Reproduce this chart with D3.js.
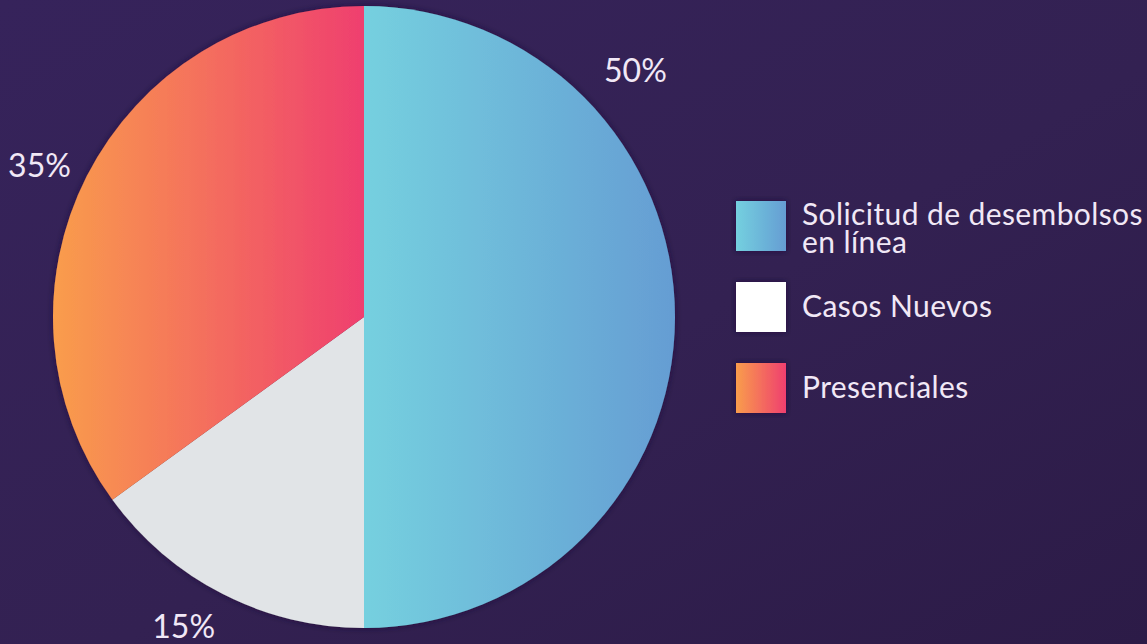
<!DOCTYPE html>
<html>
<head>
<meta charset="utf-8">
<script src="https://cdn.jsdelivr.net/npm/d3@7"></script>
<style>
  html, body { margin: 0; padding: 0; }
  body { width: 1147px; height: 644px; overflow: hidden; }
</style>
</head>
<body>
<div id="chart"></div>
<script>
// data
const categories = ["Solicitud de desembolsos en línea", "Casos Nuevos", "Presenciales"];
const legendLines = [["Solicitud de desembolsos", "en línea"], ["Casos Nuevos"], ["Presenciales"]];
const values = [50, 15, 35];
const valueLabels = ["50%", "15%", "35%"];

const width = 1147, height = 644;
const cx = 364, cy = 317, radius = 311;

const svg = d3.select("#chart").append("svg")
  .attr("width", width)
  .attr("height", height);

const defs = svg.append("defs");

// background
const bg = defs.append("linearGradient").attr("id", "bg")
  .attr("x1", "0").attr("y1", "0").attr("x2", "1").attr("y2", "1");
bg.append("stop").attr("offset", "0%").attr("stop-color", "#36235b");
bg.append("stop").attr("offset", "55%").attr("stop-color", "#332152");
bg.append("stop").attr("offset", "100%").attr("stop-color", "#2c1b47");
svg.append("rect").attr("width", width).attr("height", height).attr("fill", "url(#bg)");

const shadow = defs.append("filter").attr("id", "shadow")
  .attr("x", "-10%").attr("y", "-10%").attr("width", "120%").attr("height", "120%");
shadow.append("feDropShadow").attr("dx", 0).attr("dy", 0)
  .attr("stdDeviation", 3).attr("flood-color", "#1a1035").attr("flood-opacity", 0.7);

// slice fills: gradients in the pie group's own coordinates (centre = 0,0)
function grad(id, from, to, x1, x2) {
  const g = defs.append("linearGradient").attr("id", id)
    .attr("gradientUnits", "userSpaceOnUse")
    .attr("x1", x1).attr("y1", 0).attr("x2", x2).attr("y2", 0);
  g.append("stop").attr("offset", "0%").attr("stop-color", from);
  g.append("stop").attr("offset", "100%").attr("stop-color", to);
}
grad("gBlue", "#75d0df", "#659dd3", 0, radius);
grad("gOrange", "#f99d4c", "#ef3f6f", -radius, 0);
// legend swatch gradients (bounding box)
function gradBox(id, from, to) {
  const g = defs.append("linearGradient").attr("id", id);
  g.append("stop").attr("offset", "0%").attr("stop-color", from);
  g.append("stop").attr("offset", "100%").attr("stop-color", to);
}
gradBox("lBlue", "#74d0df", "#659dd3");
gradBox("lOrange", "#f99d4c", "#ef3f6f");

const sliceFill = ["url(#gBlue)", "#e1e4e7", "url(#gOrange)"];
const legendFill = ["url(#lBlue)", "#ffffff", "url(#lOrange)"];

const pie = d3.pie().sort(null).value(d => d);
const arcs = pie(values);
const arc = d3.arc().innerRadius(0).outerRadius(radius);

const g = svg.append("g").attr("transform", `translate(${cx},${cy})`);
g.append("g").attr("filter", "url(#shadow)")
  .selectAll("path").data(arcs).enter()
  .append("path")
  .attr("d", arc)
  .attr("fill", (d, i) => sliceFill[i]);

// percentage labels outside the pie
const labelR = [367, 358, 358];
const labelFrac = [0.265, 0.56, 0.484]; // where along each slice the label sits
const labelAngle = (d, i) => d.startAngle + (d.endAngle - d.startAngle) * labelFrac[i];
g.selectAll("text.pct").data(arcs).enter()
  .append("text")
  .attr("class", "pct")
  .attr("x", (d, i) => labelR[i] * Math.sin(labelAngle(d, i)))
  .attr("y", (d, i) => -labelR[i] * Math.cos(labelAngle(d, i)))
  .attr("text-anchor", "middle")
  .attr("dy", "0.36em")
  .style("font-family", "Lato, 'Open Sans', sans-serif")
  .style("font-size", "32px")
  .style("fill", "#f1e8f6")
  .text((d, i) => valueLabels[i]);

// legend
const legendY = d3.scaleBand().domain(d3.range(categories.length)).range([201, 444]).paddingInner(0);
const legend = svg.append("g");
const item = legend.selectAll("g").data(categories).enter().append("g")
  .attr("transform", (d, i) => `translate(736,${legendY(i)})`);
item.append("rect")
  .attr("width", 50).attr("height", 50)
  .attr("fill", (d, i) => legendFill[i])
  .attr("filter", "url(#shadow)");
// one text per line so the two-line label keeps its tight leading
item.each(function (d, i) {
  const it = d3.select(this);
  const lines = legendLines[i];
  it.selectAll("text").data(lines).enter().append("text")
    .attr("x", 66)
    .attr("y", (line, k) => (lines.length > 1 ? 24 : 35) + k * 28)
    .style("font-family", "Lato, 'Open Sans', sans-serif")
    .style("font-size", "30px")
    .style("letter-spacing", "0.4px")
    .style("fill", "#f1e8f6")
    .text(line => line);
});
</script>
</body>
</html>
